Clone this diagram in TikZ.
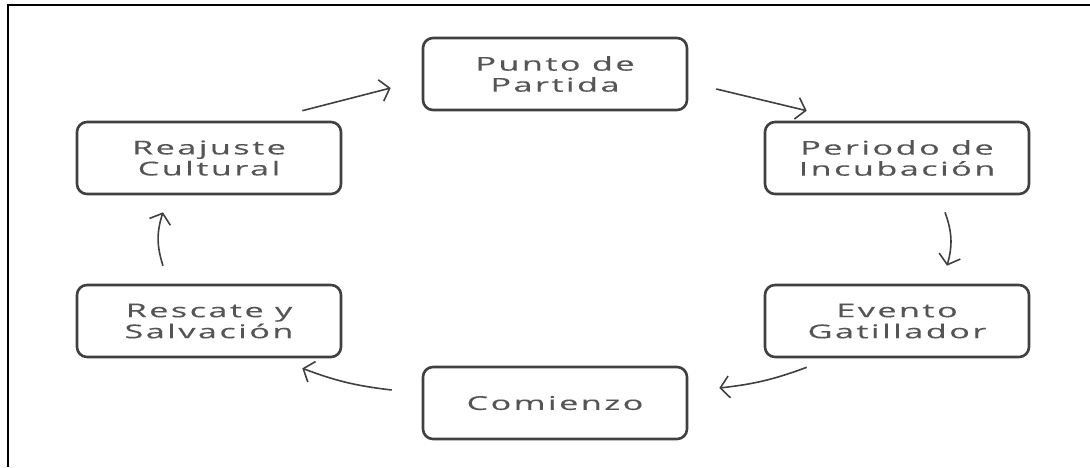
\documentclass[tikz,border=0pt]{standalone}
\usepackage{fontspec}
\setmainfont{Open Sans}[FakeStretch=1.8,LetterSpace=13,FakeBold=0.3]
\usetikzlibrary{calc,arrows.meta}
\definecolor{linegray}{HTML}{404040}
\definecolor{textgray}{HTML}{555555}
\tikzset{
	etapa/.style={draw=linegray,line width=2.6pt,rounded corners=10pt,minimum width=264pt,minimum height=72pt,
		align=center,text=textgray,inner sep=0pt,font=\fontsize{19}{21}\selectfont},
	flecha/.style={draw=linegray,line width=1.6pt,-{Straight Barb[length=9pt,width=22pt]}}
}

\begin{document}
\begin{tikzpicture}[x=1pt,y=-1pt]
	\useasboundingbox (0,0) rectangle (1090,467);
	\draw[line width=2pt,line join=miter] (1090,5) -- (8,5) -- (8,467); %marco
	\node[etapa] (punto) at (555,74) {Punto de\\Partida}; %arriba
	\node[etapa] (periodo) at (897,158) {Periodo de\\Incubación};
	\node[etapa] (evento) at (897,321) {Evento\\Gatillador};
	\node[etapa] (comienzo) at (555,403) {Comienzo}; %abajo
	\node[etapa] (rescate) at (209,321) {Rescate y\\Salvación};
	\node[etapa] (reajuste) at (209,158) {Reajuste\\Cultural};
	\draw[flecha] ($(reajuste.north east)+(-40,-10)$) -- ($(punto.west)+(-31,14)$);
	\draw[flecha] ($(punto.east)+(28,15)$) -- ($(periodo.north west)+(43,-10)$);
	\draw[flecha] ($(periodo.south)+(48,17)$) to[bend left=18] ($(evento.north)+(50,-18)$);
	\draw[flecha] ($(evento.south west)+(43,9)$) to[bend left=7] ($(comienzo.east)+(31,-15)$);
	\draw[flecha] ($(comienzo.west)+(-30,-13)$) to[bend left=7] ($(rescate.south east)+(-40,10)$);
	\draw[flecha] ($(rescate.north)+(-46,-18)$) to[bend left=18] ($(reajuste.south)+(-46,17)$);
\end{tikzpicture}
\end{document}
